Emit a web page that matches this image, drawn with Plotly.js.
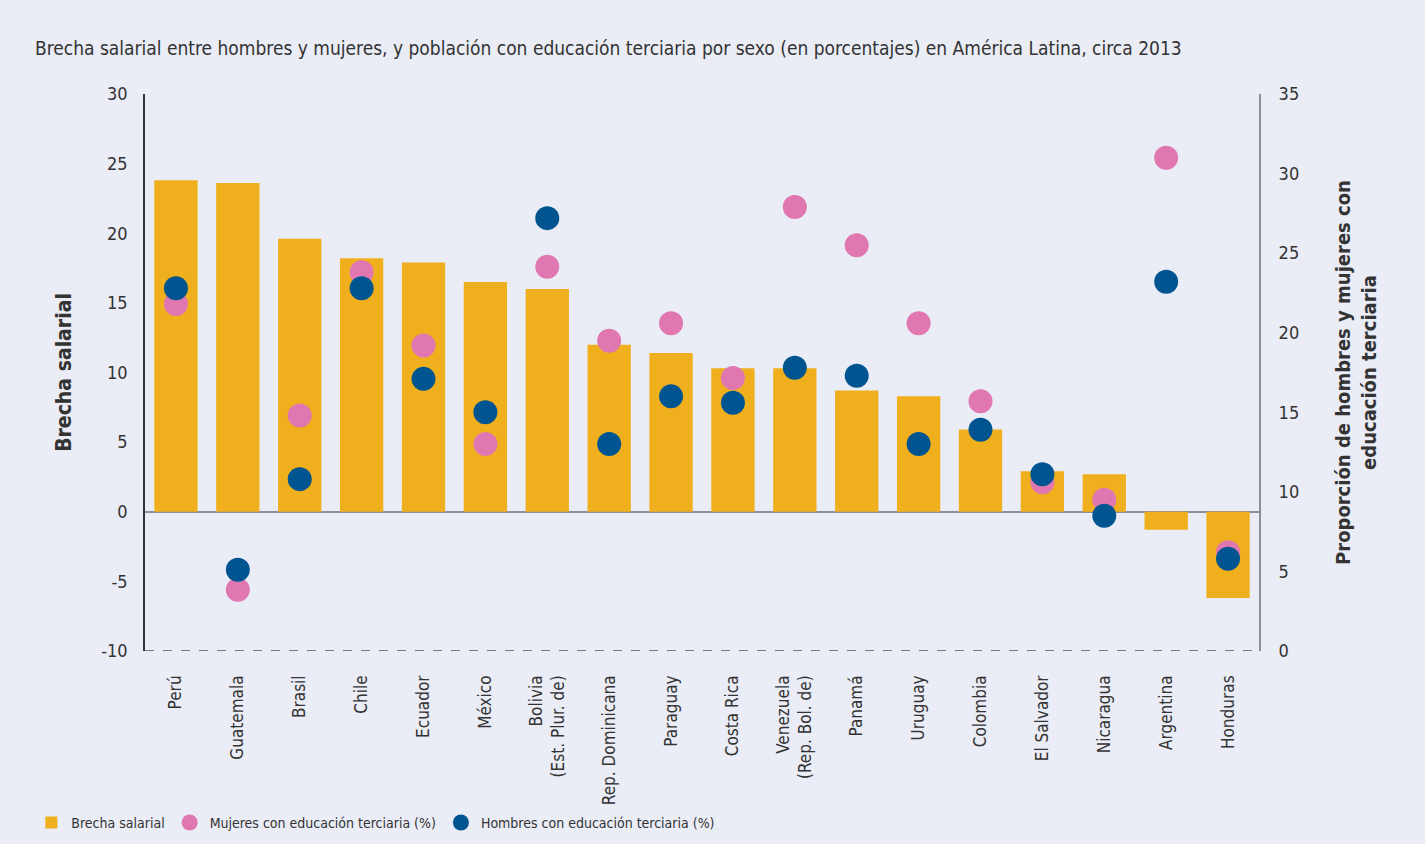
<!DOCTYPE html>
<html><head><meta charset="utf-8">
<script src="https://cdn.plot.ly/plotly-3.0.1.min.js"></script>
<style>html,body{margin:0;padding:0;background:#eaecf6;}</style>
</head><body>
<div id="chart" style="width:1425px;height:844px;"></div>
<script>
const countries = ["Perú","Guatemala","Brasil","Chile","Ecuador","México","Bolivia<br>(Est. Plur. de)","Rep. Dominicana","Paraguay","Costa Rica","Venezuela<br>(Rep. Bol. de)","Panamá","Uruguay","Colombia","El Salvador","Nicaragua","Argentina","Honduras"];
const brecha = [23.8,23.6,19.6,18.2,17.9,16.5,16.0,12.0,11.4,10.3,10.3,8.7,8.3,5.9,2.9,2.7,-1.3,-6.2];
const mujeres = [21.8,3.85,14.8,23.8,19.2,13.0,24.15,19.5,20.6,17.15,27.9,25.5,20.6,15.7,10.6,9.5,31.0,6.2];
const hombres = [22.8,5.1,10.8,22.8,17.1,15.0,27.2,13.0,16.0,15.6,17.8,17.3,13.0,13.9,11.1,8.5,23.2,5.8];
const leftTicks = [-10,-5,0,5,10,15,20,25,30];
const leftTickText = ["-10","-5","0","5","10","15","20","25","30"];

const FONT = "Liberation Sans Narrow, DejaVu Sans Condensed, sans-serif";
const txt = "#333333";

const data = [
  {type:"bar", x:countries, y:brecha, name:"Brecha salarial", marker:{color:"#f0b01e"}, yaxis:"y"},
  {type:"scatter", mode:"markers", x:countries, y:mujeres, name:"Mujeres con educación terciaria (%)", marker:{color:"#e077b0", size:24}, yaxis:"y2"},
  {type:"scatter", mode:"markers", x:countries, y:hombres, name:"Hombres con educación terciaria (%)", marker:{color:"#005590", size:24}, yaxis:"y2"}
];

const layout = {
  width:1425, height:844,
  paper_bgcolor:"#eaecf6", plot_bgcolor:"#eaecf6",
  font:{family:FONT, color:txt, size:18},
  margin:{l:145, r:166, t:94, b:193},
  bargap:0.3,
  showlegend:true,
  title:{text:"Brecha salarial entre hombres y mujeres, y población con educación terciaria por sexo (en porcentajes) en América Latina, circa 2013",
         x:0.0245, xanchor:"left", y:0.943, yanchor:"middle", font:{family:FONT, size:19, color:txt}},
  xaxis:{range:[-0.5,17.5], tickangle:-90, tickfont:{size:17, color:txt}, showline:false, showgrid:false, ticks:"", ticklabelstandoff:20, automargin:false},
  yaxis:{range:[-10,30], tickvals:leftTicks, ticktext:leftTickText, showgrid:false, showline:true, linecolor:"#333", linewidth:1.5,
         zeroline:true, zerolinecolor:"#8e8e9c", zerolinewidth:2, ticks:"", ticklabelstandoff:12,
         tickfont:{size:18, color:txt},
         title:{text:"<b>Brecha salarial</b>", font:{size:21, color:txt}, standoff:24}, automargin:false},
  yaxis2:{range:[0,35], dtick:5, overlaying:"y", side:"right", showgrid:false, showline:true, linecolor:"#8e8e9c", linewidth:2,
          zeroline:false, ticks:"", tickfont:{size:18, color:txt}, ticklabelstandoff:14,
          title:{text:"<b>Proporción de hombres y mujeres con<br>educación terciaria</b>", font:{size:20, color:txt}, standoff:38}, automargin:false},
  legend:{orientation:"h", xref:"container", yref:"container", x:0.022, xanchor:"left", y:0.025, yanchor:"middle", font:{size:14, color:txt}, bgcolor:"rgba(0,0,0,0)", itemwidth:30},
  shapes:[{type:"line", xref:"paper", x0:0, x1:1, yref:"y", y0:-10, y1:-10, line:{color:"#555", width:1.5, dash:"dash"}}]
};

Plotly.newPlot("chart", data, layout, {displayModeBar:false});
</script>
</body></html>
